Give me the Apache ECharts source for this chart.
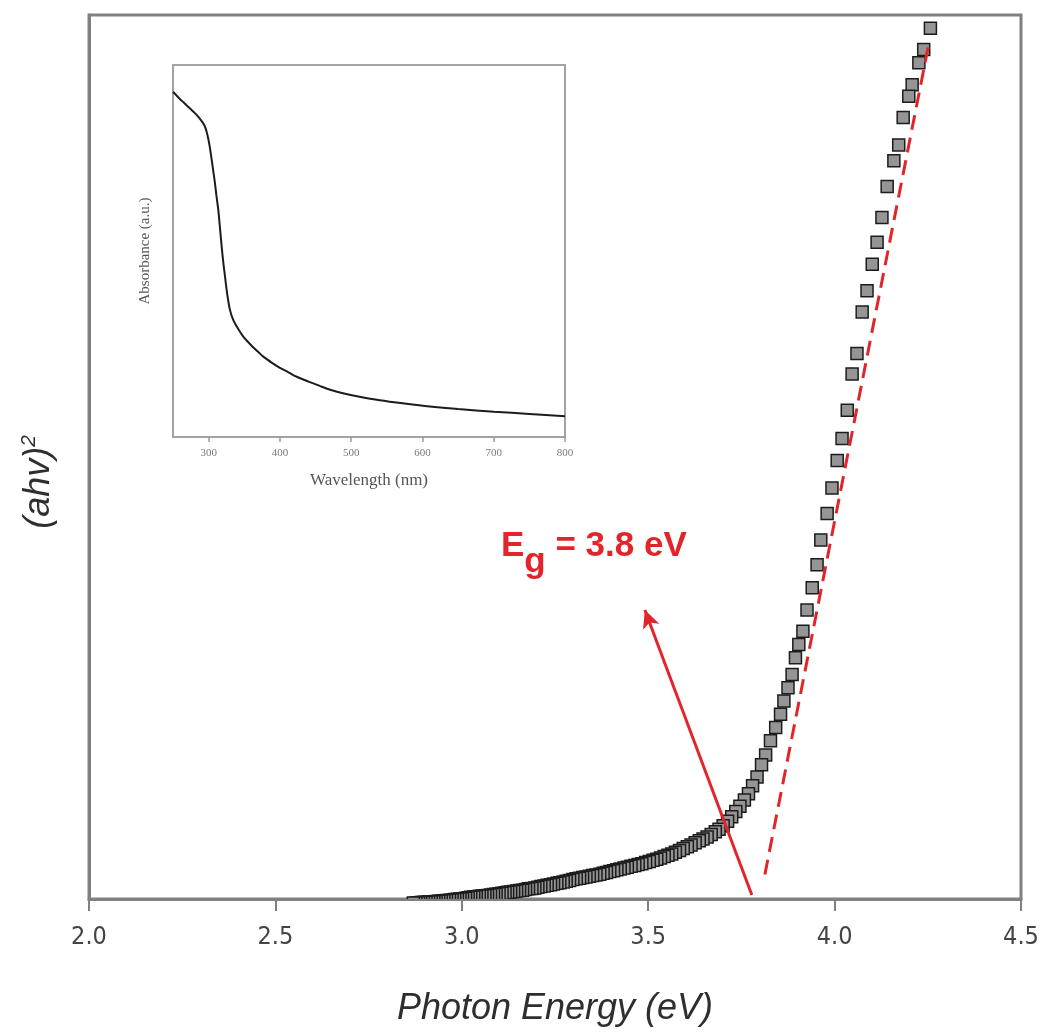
<!DOCTYPE html>
<html>
<head>
<meta charset="utf-8">
<title>Tauc plot</title>
<script src="https://cdn.jsdelivr.net/npm/echarts@6/dist/echarts.min.js"></script>
<style>
  html, body { margin: 0; padding: 0; background: #fff; }
  #chart { width: 1043px; height: 1032px; }
</style>
</head>
<body>
<div id="chart"></div>
<script>
// Tauc plot: (ahv)^2 against photon energy, absorption spectrum as inset

// photon energy (eV) of each measured point
var photonEnergy = [
  4.257, 4.239, 4.226, 4.208, 4.199, 4.184, 4.172, 4.159, 4.141, 4.127,
  4.114, 4.101, 4.087, 4.074, 4.060, 4.047, 4.034, 4.020, 4.007, 3.993,
  3.980, 3.963, 3.953, 3.940, 3.926, 3.915, 3.904, 3.895, 3.886, 3.875,
  3.864, 3.855, 3.842, 3.828, 3.815, 3.804, 3.792, 3.780, 3.769, 3.758,
  3.746, 3.735, 3.724, 3.713, 3.701, 3.690, 3.680, 3.669, 3.658, 3.647,
  3.637, 3.626, 3.615, 3.605, 3.594, 3.584, 3.573, 3.563, 3.553, 3.543,
  3.533, 3.523, 3.513, 3.503, 3.493, 3.483, 3.473, 3.464, 3.454, 3.444,
  3.435, 3.425, 3.416, 3.407, 3.397, 3.388, 3.379, 3.370, 3.360, 3.351,
  3.342, 3.333, 3.324, 3.316, 3.307, 3.298, 3.289, 3.280, 3.272, 3.263,
  3.255, 3.246, 3.238, 3.229, 3.221, 3.212, 3.204, 3.196, 3.188, 3.179,
  3.171, 3.163, 3.155, 3.147, 3.139, 3.131, 3.123, 3.116, 3.108, 3.100,
  3.092, 3.085, 3.077, 3.069, 3.062, 3.054, 3.047, 3.039, 3.032, 3.024,
  3.017, 3.010, 3.002, 2.995, 2.988, 2.981, 2.974, 2.967, 2.959, 2.952,
  2.945, 2.938, 2.931, 2.925, 2.918, 2.911, 2.904, 2.897, 2.890, 2.884,
  2.877, 2.870
];

// (ahv)^2 in arbitrary units, same order as photonEnergy
var taucValue = [
  9.85, 9.61, 9.46, 9.21, 9.08, 8.84, 8.53, 8.35, 8.06, 7.71,
  7.43, 7.18, 6.88, 6.64, 6.17, 5.94, 5.53, 5.21, 4.96, 4.65,
  4.36, 4.06, 3.78, 3.52, 3.27, 3.03, 2.88, 2.73, 2.54, 2.39,
  2.24, 2.09, 1.94, 1.79, 1.63, 1.52, 1.38, 1.28, 1.19, 1.12,
  1.05, 0.99, 0.93, 0.88, 0.83, 0.79, 0.76, 0.73, 0.70, 0.68,
  0.66, 0.635, 0.61, 0.59, 0.57, 0.55, 0.53, 0.51, 0.495, 0.48,
  0.465, 0.45, 0.437, 0.425, 0.412, 0.40, 0.39, 0.38, 0.37, 0.36,
  0.35, 0.34, 0.33, 0.32, 0.31, 0.30, 0.29, 0.28, 0.272, 0.265,
  0.257, 0.25, 0.242, 0.235, 0.228, 0.22, 0.21, 0.20, 0.192, 0.185,
  0.178, 0.17, 0.162, 0.155, 0.148, 0.14, 0.132, 0.125, 0.12, 0.115,
  0.107, 0.10, 0.095, 0.09, 0.085, 0.08, 0.075, 0.07, 0.065, 0.06,
  0.055, 0.05, 0.045, 0.04, 0.037, 0.035, 0.03, 0.025, 0.022, 0.02,
  0.014, 0.008, 0.004, 0.0, -0.003, -0.007, -0.01, -0.013, -0.016, -0.019,
  -0.022, -0.025, -0.028, -0.03, -0.032, -0.034, -0.036, -0.038, -0.04, -0.042,
  -0.044, -0.046
];

// absorption spectrum for the inset
var wavelength = [250, 255, 260, 265, 270, 275, 280, 285, 290, 294,
                  297, 300, 302, 304.3, 306.5, 308.9, 311, 313.6, 316, 318.3,
                  320.5, 323, 326, 330, 334, 339.4, 344, 348.6, 355, 362,
                  370, 376.7, 390, 400, 412, 423.6, 440, 455, 470.3, 490,
                  510, 540, 575, 610, 650, 700, 750, 800];
var absorbance = [0.928, 0.918, 0.908, 0.899, 0.890, 0.881, 0.872, 0.862, 0.850, 0.838,
                  0.822, 0.797, 0.775, 0.745, 0.715, 0.682, 0.648, 0.610, 0.560, 0.512,
                  0.470, 0.431, 0.385, 0.341, 0.317, 0.297, 0.283, 0.270, 0.256, 0.242,
                  0.228, 0.216, 0.198, 0.186, 0.174, 0.162, 0.149, 0.138, 0.127, 0.117,
                  0.109, 0.099, 0.090, 0.082, 0.075, 0.068, 0.062, 0.056];

var energyTicks = [2.0, 2.5, 3.0, 3.5, 4.0, 4.5];
var wavelengthTicks = [300, 400, 500, 600, 700, 800];

// linear extrapolation of the absorption edge
var bandGap = 3.8;
var edgeSlope = 21.37;
var tangentEnergy = [3.813, 4.254];
var arrowFrom = [3.778, 0.045];
var arrowTo = [3.491, 3.27];

var red = '#e2252b';
var axisGray = '#808080';
var sansFont = '"Liberation Sans", Arial, sans-serif';
var serifFont = '"Liberation Serif", "DejaVu Serif", serif';

var mainPoints = photonEnergy.map(function (e, i) { return [e, taucValue[i]]; });
var spectrum = wavelength.map(function (w, i) { return [w, absorbance[i]]; });
var tangentLine = tangentEnergy.map(function (e) { return [e, edgeSlope * (e - bandGap)]; });

var chart = echarts.init(document.getElementById('chart'), null, { renderer: 'canvas' });

chart.setOption({
  animation: false,
  backgroundColor: '#ffffff',
  grid: [
    { left: 89, right: 22, top: 15, bottom: 130, show: true,
      borderColor: axisGray, borderWidth: 3, backgroundColor: 'transparent' },
    { left: 173, top: 65, width: 392, height: 372, show: true,
      borderColor: '#a3a3a3', borderWidth: 2, backgroundColor: '#ffffff', z: 5 }
  ],
  xAxis: [
    {
      gridIndex: 0, type: 'value', min: 2.0, max: 4.5, interval: 0.5,
      axisLine: { show: true, lineStyle: { color: axisGray, width: 3 } },
      axisTick: { show: true, inside: false, length: 12, lineStyle: { color: axisGray, width: 2 } },
      axisLabel: {
        margin: 26, fontSize: 25, color: '#444',
        fontFamily: '"Liberation Sans Narrow", "DejaVu Sans Condensed", "Liberation Sans", sans-serif',
        formatter: function (v) { return v.toFixed(1); },
        customValues: energyTicks
      },
      splitLine: { show: false },
      name: 'Photon Energy (eV)', nameLocation: 'middle', nameGap: 92,
      nameTextStyle: { fontSize: 36, fontStyle: 'italic', color: '#2e2e2e', fontFamily: sansFont }
    },
    {
      gridIndex: 1, type: 'value', min: 250, max: 800, interval: 50,
      axisLine: { show: true, lineStyle: { color: '#a3a3a3', width: 2 } },
      axisTick: { show: true, length: 5, customValues: wavelengthTicks,
                  lineStyle: { color: '#9a9a9a', width: 1.5 } },
      axisLabel: { customValues: wavelengthTicks, margin: 11, fontSize: 11, color: '#7a7a7a',
                   fontFamily: serifFont },
      splitLine: { show: false },
      name: 'Wavelength (nm)', nameLocation: 'middle', nameGap: 35,
      nameTextStyle: { fontSize: 17, color: '#555', fontFamily: serifFont },
      z: 6
    }
  ],
  yAxis: [
    {
      gridIndex: 0, type: 'value', min: 0, max: 10,
      axisLine: { show: true, lineStyle: { color: axisGray, width: 3 } },
      axisTick: { show: false }, axisLabel: { show: false }, splitLine: { show: false },
      name: '(ahv){sup|2}', nameLocation: 'middle', nameGap: 30, nameRotate: 90,
      nameTextStyle: {
        fontSize: 36, fontStyle: 'italic', color: '#2e2e2e', lineHeight: 40,
        fontFamily: sansFont, padding: [0, 50, 0, 0],
        rich: { sup: { fontSize: 21, fontStyle: 'italic', color: '#2e2e2e', verticalAlign: 'top',
                       lineHeight: 40, fontFamily: sansFont } }
      }
    },
    {
      gridIndex: 1, type: 'value', min: 0, max: 1,
      axisLine: { show: true, lineStyle: { color: '#a3a3a3', width: 2 } },
      axisTick: { show: false }, axisLabel: { show: false }, splitLine: { show: false },
      name: 'Absorbance (a.u.)', nameLocation: 'middle', nameGap: 20, nameRotate: 90,
      nameTextStyle: { fontSize: 15, color: '#555', fontFamily: serifFont },
      z: 6
    }
  ],
  series: [
    {
      // square markers, clipped at the plot frame
      type: 'custom', name: 'Tauc', coordinateSystem: 'cartesian2d',
      xAxisIndex: 0, yAxisIndex: 0, clip: true, z: 2,
      data: mainPoints,
      encode: { x: 0, y: 1 },
      renderItem: function (params, api) {
        var c = api.coord([api.value(0), api.value(1)]);
        var s = 12;
        return {
          type: 'rect',
          shape: { x: c[0] - s / 2, y: c[1] - s / 2, width: s, height: s },
          style: { fill: '#959595', stroke: '#1c1c1c', lineWidth: 1.5 }
        };
      }
    },
    {
      type: 'line', name: 'Edge fit', xAxisIndex: 0, yAxisIndex: 0, z: 4,
      data: tangentLine, showSymbol: false, symbol: 'none',
      lineStyle: { color: red, width: 3, type: [15, 8] },
      markLine: {
        silent: true, animation: false,
        symbol: ['none', 'arrow'], symbolSize: [13, 18],
        label: { show: false },
        lineStyle: { color: red, width: 3, type: 'solid' },
        data: [[ { coord: arrowFrom }, { coord: arrowTo } ]]
      }
    },
    {
      type: 'line', name: 'Absorbance', xAxisIndex: 1, yAxisIndex: 1, z: 7,
      data: spectrum, showSymbol: false, symbol: 'none', smooth: 0.25,
      lineStyle: { color: '#1c1c1c', width: 2 }
    }
  ],
  graphic: [
    {
      type: 'text', left: 501, top: 529, z: 10,
      style: {
        text: '{e|E}{g|g}{e| = ' + bandGap.toFixed(1) + ' eV}',
        rich: {
          e: { fontSize: 35, fontWeight: 'bold', fill: red, verticalAlign: 'top', lineHeight: 40,
               fontFamily: sansFont },
          g: { fontSize: 35, fontWeight: 'bold', fill: red, verticalAlign: 'top', lineHeight: 40,
               padding: [16, 0, 0, 0], fontFamily: sansFont }
        }
      }
    }
  ]
});
</script>
</body>
</html>
